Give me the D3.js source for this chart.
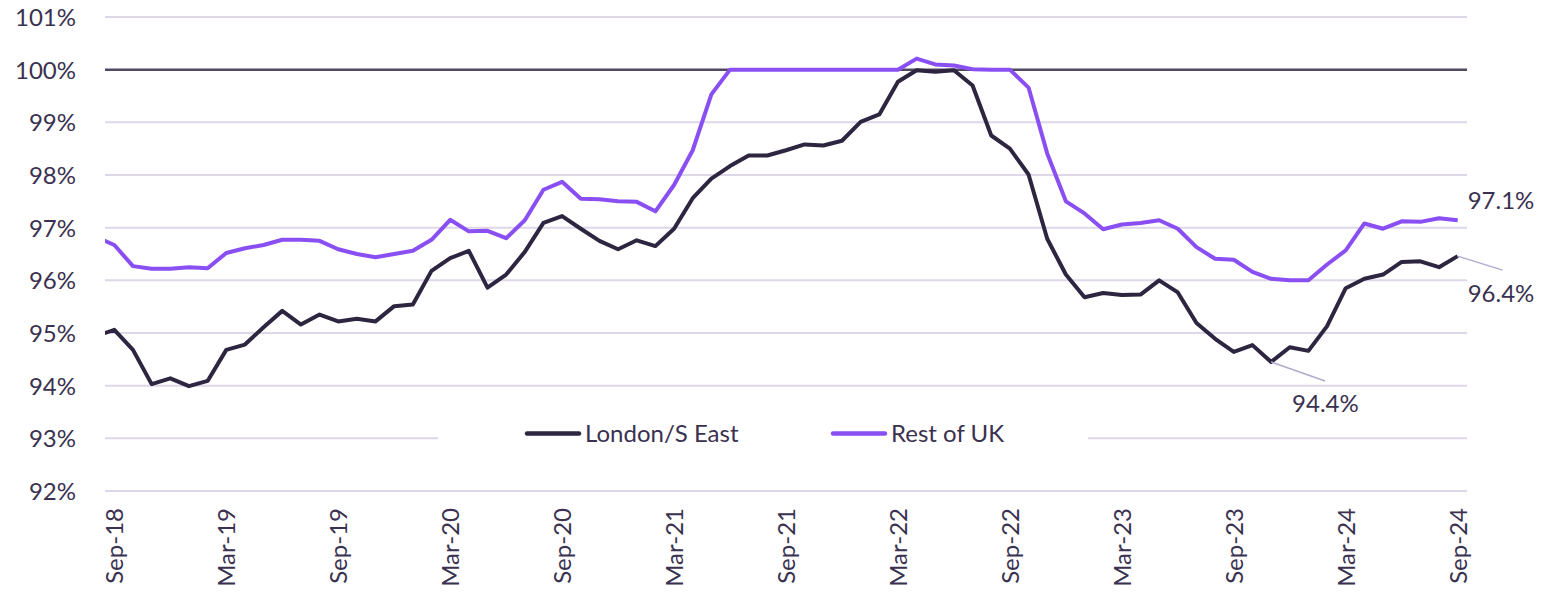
<!DOCTYPE html>
<html>
<head>
<meta charset="utf-8">
<script src="https://cdn.jsdelivr.net/npm/d3@7"></script>
<style>
  body { margin: 0; background: #fff; }
  svg { display: block; font-family: Lato, 'Open Sans', sans-serif; }
</style>
</head>
<body>
<div id="chart"></div>
<script>
// Months Sep-18 .. Sep-24 (index 0..72); the series also carry Aug-18 (index -1), clipped off at the left edge
const months = d3.utcMonth.range(new Date(Date.UTC(2018, 8, 1)), new Date(Date.UTC(2024, 9, 1)))
  .map(d3.utcFormat('%b-%y'))
const xTickLabels = ['Sep-18', 'Mar-19', 'Sep-19', 'Mar-20', 'Sep-20', 'Mar-21', 'Sep-21',
  'Mar-22', 'Sep-22', 'Mar-23', 'Sep-23', 'Mar-24', 'Sep-24']
const yTicks = [92, 93, 94, 95, 96, 97, 98, 99, 100, 101]

// Aug-18 value first, then Sep-18 .. Sep-24
const londonSE = [94.94,
  95.06, 94.68, 94.03, 94.14, 93.99, 94.09, 94.68, 94.78, 95.11, 95.42, 95.16, 95.35,
  95.22, 95.27, 95.22, 95.51, 95.54, 96.18, 96.42, 96.56, 95.86, 96.11, 96.54, 97.09,
  97.22, 96.98, 96.75, 96.59, 96.76, 96.65, 96.98, 97.56, 97.93, 98.17, 98.37, 98.37,
  98.47, 98.58, 98.56, 98.65, 99.01, 99.15, 99.77, 99.99, 99.96, 99.99, 99.70, 98.75,
  98.50, 98.01, 96.79, 96.11, 95.68, 95.76, 95.72, 95.73, 96.00, 95.77, 95.19, 94.89,
  94.64, 94.77, 94.45, 94.73, 94.66, 95.13, 95.85, 96.03, 96.11, 96.35, 96.36, 96.25,
  96.46]
const restOfUK = [96.83,
  96.67, 96.27, 96.22, 96.22, 96.25, 96.23, 96.52, 96.61, 96.67, 96.77, 96.77, 96.75,
  96.59, 96.50, 96.44, 96.50, 96.56, 96.77, 97.15, 96.93, 96.94, 96.80, 97.14, 97.72,
  97.87, 97.55, 97.54, 97.50, 97.49, 97.31, 97.81, 98.47, 99.53, 100.0, 100.0, 100.0,
  100.0, 100.0, 100.0, 100.0, 100.0, 100.0, 100.0, 100.21, 100.10, 100.08, 100.01, 100.0,
  100.0, 99.66, 98.41, 97.50, 97.27, 96.97, 97.06, 97.09, 97.14, 96.98, 96.63, 96.41,
  96.39, 96.16, 96.03, 96.00, 96.00, 96.30, 96.57, 97.08, 96.98, 97.12, 97.11, 97.18,
  97.14]

const seriesNames = ['London/S East', 'Rest of UK']
const colors = { london: '#2e2540', rest: '#8a4ff2', text: '#3a3150', grid: '#ddd7e8' }

const width = 1550, height = 595
const plotLeft = 105, plotRight = 1467, plotTop = 17, plotBottom = 491

const svg = d3.select('#chart').append('svg')
  .attr('width', width).attr('height', height)

const x = d3.scaleLinear().domain([-0.5, months.length - 0.5]).range([plotLeft, plotRight])
const y = d3.scaleLinear().domain([92, 101]).range([plotBottom, plotTop])

svg.append('defs').append('clipPath').attr('id', 'plot')
  .append('rect').attr('x', plotLeft).attr('y', 0).attr('width', plotRight - plotLeft).attr('height', height)

// gridlines
svg.append('g')
  .selectAll('line')
  .data(yTicks.filter((d) => d !== 100))
  .join('line')
  .attr('x1', plotLeft).attr('x2', plotRight)
  .attr('y1', (d) => y(d)).attr('y2', (d) => y(d))
  .attr('stroke', colors.grid).attr('stroke-width', 2)

// 100% reference line
svg.append('line')
  .attr('x1', plotLeft).attr('x2', plotRight)
  .attr('y1', y(100)).attr('y2', y(100))
  .attr('stroke', '#504860').attr('stroke-width', 2.5)

// y axis labels
svg.append('g')
  .attr('transform', `translate(${plotLeft},0)`)
  .call(d3.axisLeft(y).tickValues(yTicks).tickSize(0).tickPadding(29).tickFormat((d) => d + '%'))
  .call((g) => g.select('.domain').remove())
  .selectAll('text')
  .attr('dy', '0.36em')
  .style('font-size', '24px').style('font-family', 'Lato, sans-serif')
  .attr('fill', colors.text)

// x axis labels, rotated
svg.append('g')
  .attr('transform', `translate(0,${plotBottom})`)
  .call(d3.axisBottom(x)
    .tickValues(xTickLabels.map((m) => months.indexOf(m)))
    .tickSize(0)
    .tickFormat((i) => months[i]))
  .call((g) => g.select('.domain').remove())
  .selectAll('text')
  .attr('transform', 'rotate(-90)')
  .attr('x', -17).attr('y', 8.5).attr('dy', 0)
  .style('text-anchor', 'end')
  .style('font-size', '24px').style('font-family', 'Lato, sans-serif')
  .attr('fill', colors.text)

// legend box (covers the 93% gridline)
const legend = svg.append('g')
legend.append('rect')
  .attr('x', 438).attr('y', 416).attr('width', 650).attr('height', 38)
  .attr('fill', '#fff')
const legendItems = [
  { name: seriesNames[0], color: colors.london, x: 527 },
  { name: seriesNames[1], color: colors.rest, x: 833 },
]
legendItems.forEach((d) => {
  legend.append('line')
    .attr('x1', d.x).attr('x2', d.x + 52).attr('y1', 433.5).attr('y2', 433.5)
    .attr('stroke', d.color).attr('stroke-width', 4.5).attr('stroke-linecap', 'round')
  legend.append('text')
    .attr('x', d.x + 58).attr('y', 433.5).attr('dy', '0.36em')
    .attr('font-size', 24).attr('fill', colors.text)
    .text(d.name)
})

// series lines
const line = d3.line().x((d, i) => x(i - 1)).y((d) => y(d))
const lines = svg.append('g').attr('clip-path', 'url(#plot)')
lines.append('path').datum(londonSE)
  .attr('d', line).attr('fill', 'none')
  .attr('stroke', colors.london).attr('stroke-width', 4).attr('stroke-linejoin', 'round')
lines.append('path').datum(restOfUK)
  .attr('d', line).attr('fill', 'none')
  .attr('stroke', colors.rest).attr('stroke-width', 4).attr('stroke-linejoin', 'round')

// annotations
const last = months.length - 1
const lowIdx = 62 // Nov-23 low for London/S East
const annotations = [
  { i: last, v: restOfUK[last + 1], dx: 10, dy: -11, label: '97.1%' },
  { i: last, v: londonSE[last + 1], dx: 10, dy: 46, label: '96.4%', lx: 45, ly: 14 },
  { i: lowIdx, v: londonSE[lowIdx + 1], dx: 21, dy: 50, label: '94.4%', lx: 54, ly: 19 },
]
annotations.forEach((a) => {
  const px = x(a.i), py = y(a.v)
  if (a.lx) {
    svg.append('line')
      .attr('x1', px).attr('y1', py).attr('x2', px + a.lx).attr('y2', py + a.ly)
      .attr('stroke', '#b3a9cc').attr('stroke-width', 1.5)
  }
  svg.append('text')
    .attr('x', px + a.dx).attr('y', py + a.dy)
    .attr('font-size', 24).attr('fill', colors.text)
    .text(a.label)
})
</script>
</body>
</html>
